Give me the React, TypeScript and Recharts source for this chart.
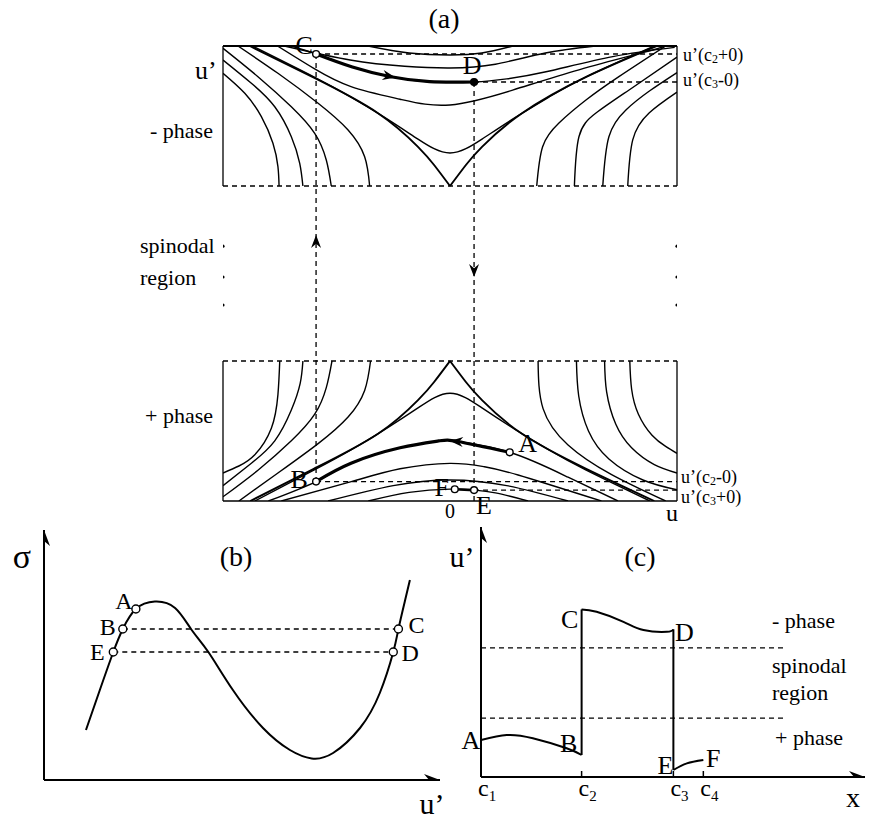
import React from 'react';
import {
  ComposedChart,
  Line,
  Scatter,
  XAxis,
  YAxis,
  ReferenceLine,
  ReferenceDot,
} from 'recharts';

const SERIF = '"Liberation Serif", "Times New Roman", serif';
const INK = '#000';

type Pt = { u: number; v: number };
const pts = (rows: number[][]): Pt[] => rows.map(([u, v]) => ({ u, v }));

// ---------- (a) phase plane. "- phase" box: u' 2.25..3.25, "+ phase" box: u' 0..1
const minusLeft = [
  pts([[-1.0, 3.055], [-0.904, 2.912], [-0.831, 2.745], [-0.78, 2.555], [-0.758, 2.388], [-0.753, 2.25]]),
  pts([[-1.0, 3.15], [-0.875, 2.984], [-0.772, 2.816], [-0.699, 2.602], [-0.662, 2.412], [-0.648, 2.25]]),
  pts([[-1.0, 3.234], [-0.846, 3.031], [-0.699, 2.816], [-0.596, 2.626], [-0.545, 2.436], [-0.523, 2.25]]),
  pts([[-0.934, 3.25], [-0.758, 3.055], [-0.581, 2.841], [-0.449, 2.65], [-0.376, 2.459], [-0.354, 2.25]]),
];
const minusRight = [
  pts([[0.783, 2.25], [0.805, 2.579], [0.877, 2.771], [1.0, 2.92]]),
  pts([[0.673, 2.25], [0.7, 2.602], [0.775, 2.793], [0.88, 2.93], [1.0, 3.06]]),
  pts([[0.548, 2.25], [0.568, 2.602], [0.643, 2.771], [0.789, 2.936], [1.0, 3.17]]),
  pts([[0.382, 2.25], [0.408, 2.531], [0.48, 2.7], [0.599, 2.864], [0.744, 3.031], [0.95, 3.25]]),
];
const minusBowls = [
  pts([[-0.87, 3.25], [-0.6, 3.03], [-0.436, 2.885], [-0.288, 2.74], [-0.141, 2.585], [0, 2.486], [0.141, 2.585], [0.288, 2.74], [0.436, 2.885], [0.6, 3.03], [0.9, 3.25]]),
  pts([[-0.76, 3.25], [-0.6, 3.09], [-0.436, 2.96], [-0.22, 2.87], [0, 2.829], [0.276, 2.935], [0.568, 3.08], [0.863, 3.209], [0.947, 3.25]]),
  pts([[-0.7, 3.25], [-0.59, 3.193], [-0.43, 3.1], [-0.26, 3.03], [-0.09, 2.995], [0.106, 2.993], [0.25, 3.015], [0.423, 3.066], [0.717, 3.174], [0.99, 3.24]]),
  pts([[-0.73, 3.25], [-0.44, 3.15], [-0.2, 3.105], [0, 3.093], [0.2, 3.12], [0.42, 3.2], [0.64, 3.25]]),
  pts([[-0.361, 3.25], [-0.18, 3.2], [0, 3.186], [0.14, 3.2], [0.276, 3.25]]),
];
const minusSeparatrix = [
  pts([[-0.882, 3.25], [-0.595, 3.02], [-0.317, 2.77], [-0.141, 2.53], [-0.07, 2.4], [0, 2.25]]),
  pts([[0, 2.25], [0.07, 2.4], [0.141, 2.53], [0.317, 2.77], [0.6, 3.03], [0.91, 3.25]]),
];
const pathCD = pts([[-0.59, 3.193], [-0.43, 3.1], [-0.26, 3.03], [-0.09, 2.995], [0.106, 2.993]]);

const plusLeft = [
  pts([[-0.75, 1.0], [-0.758, 0.76], [-0.787, 0.52], [-0.86, 0.33], [-0.93, 0.25], [-1.0, 0.2]]),
  pts([[-0.648, 1.0], [-0.66, 0.84], [-0.699, 0.65], [-0.772, 0.43], [-0.875, 0.27], [-1.0, 0.11]]),
  pts([[-0.52, 1.0], [-0.545, 0.81], [-0.596, 0.62], [-0.699, 0.43], [-0.846, 0.22], [-1.0, 0.03]]),
  pts([[-0.35, 1.0], [-0.376, 0.79], [-0.449, 0.6], [-0.581, 0.41], [-0.758, 0.2], [-0.93, 0]]),
];
const plusRight = [
  pts([[0.792, 1.0], [0.8, 0.8], [0.83, 0.62], [0.89, 0.47], [0.95, 0.39], [1.0, 0.34]]),
  pts([[0.681, 1.0], [0.69, 0.78], [0.73, 0.55], [0.8, 0.38], [0.9, 0.26], [1.0, 0.2]]),
  pts([[0.557, 1.0], [0.567, 0.75], [0.61, 0.5], [0.7, 0.3], [0.85, 0.15], [1.0, 0.08]]),
  pts([[0.388, 1.0], [0.41, 0.66], [0.52, 0.4], [0.71, 0.19], [0.95, 0]]),
];
const plusArches = [
  pts([[-0.86, 0], [-0.6, 0.22], [-0.436, 0.365], [-0.288, 0.51], [-0.141, 0.665], [0, 0.77], [0.141, 0.665], [0.288, 0.51], [0.436, 0.365], [0.6, 0.22], [0.88, 0]]),
  pts([[-0.8, 0], [-0.59, 0.139], [-0.436, 0.27], [-0.22, 0.38], [-0.05, 0.429], [0.035, 0.425], [0.263, 0.348], [0.52, 0.17], [0.74, 0]]),
  pts([[-0.743, 0], [-0.435, 0.138], [-0.22, 0.23], [0, 0.269], [0.15, 0.245], [0.3, 0.186], [0.667, 0]]),
  pts([[-0.537, 0], [-0.25, 0.11], [0, 0.15], [0.25, 0.11], [0.52, 0]]),
  pts([[-0.36, 0], [-0.18, 0.062], [0, 0.085], [0.106, 0.078], [0.2, 0.058], [0.344, 0]]),
];
const plusSeparatrix = [
  pts([[-0.88, 0], [-0.6, 0.23], [-0.317, 0.48], [-0.141, 0.72], [-0.07, 0.85], [0, 1.0]]),
  pts([[0, 1.0], [0.07, 0.85], [0.141, 0.72], [0.317, 0.48], [0.6, 0.23], [0.9, 0]]),
];
const pathAB = pts([[-0.59, 0.139], [-0.436, 0.27], [-0.22, 0.38], [-0.05, 0.429], [0.035, 0.425], [0.263, 0.348]]);
const pathFE = pts([[0.021, 0.084], [0.106, 0.078]]);

const aPoints: Record<string, Pt> = {
  C: { u: -0.59, v: 3.193 },
  D: { u: 0.106, v: 2.993 },
  B: { u: -0.59, v: 0.139 },
  A: { u: 0.263, v: 0.348 },
  F: { u: 0.021, v: 0.084 },
  E: { u: 0.106, v: 0.078 },
};
const aGapDots = pts([[-1, 1.82], [-1, 1.6], [-1, 1.4], [1, 1.82], [1, 1.6], [1, 1.4]]);
const aArrowRight = pts([[-0.24, 3.025]]);
const aArrowLeft = pts([[0.0, 0.428]]);
const aArrowUp = pts([[-0.59, 1.9]]);
const aArrowDown = pts([[0.106, 1.6]]);

// ---------- (b) sigma(u')
const bCurve = pts([
  [1.06, 1.25], [1.41, 2.25], [1.75, 3.2], [1.99, 3.775], [2.32, 4.275], [2.8, 4.46], [3.31, 4.3],
  [3.73, 3.75], [4.15, 3.2], [4.77, 2.25], [5.53, 1.3], [6.21, 0.75], [6.76, 0.54], [7.3, 0.675],
  [7.98, 1.3], [8.48, 2.175], [8.82, 3.2], [8.95, 3.775], [9.12, 4.5], [9.24, 5.0],
]);
const bPoints: Record<string, Pt> = {
  A: { u: 2.32, v: 4.275 },
  B: { u: 1.99, v: 3.775 },
  E: { u: 1.75, v: 3.2 },
  C: { u: 8.95, v: 3.775 },
  D: { u: 8.82, v: 3.2 },
};

// ---------- (c) u'(x)
const cTicks = [0, 2.62, 5.01, 5.79];
const cSegAB = pts([[0, 0.925], [0.67, 1.05], [1.35, 0.97], [2.23, 0.72], [2.62, 0.55]]);
const cJumpBC = pts([[2.62, 0.55], [2.62, 4.19]]);
const cSegCD = pts([[2.62, 4.19], [3.01, 4.13], [3.71, 3.88], [4.23, 3.675], [4.84, 3.63], [5.01, 3.69]]);
const cJumpDE = pts([[5.01, 3.69], [5.01, 0.175]]);
const cSegEF = pts([[5.01, 0.175], [5.36, 0.34], [5.79, 0.425]]);
const cSpinodal = [3.23, 1.47];
const cLabelAt: Record<string, Pt> = {
  A: { u: 0, v: 0.925 },
  B: { u: 2.62, v: 0.55 },
  C: { u: 2.62, v: 4.19 },
  D: { u: 5.01, v: 3.69 },
  E: { u: 5.01, v: 0.175 },
  F: { u: 5.79, v: 0.425 },
};

// label offsets in px from the point
const aTagOffset: Record<string, [number, number]> = {
  C: [-12, -8], D: [-2, -16], B: [-17, -2], A: [18, -9], F: [-13, -2], E: [10, 15],
};
const bTagOffset: Record<string, [number, number]> = {
  A: [-12, -8], B: [-15, -2], E: [-16, 0], C: [18, -4], D: [17, 1],
};
const cTagOffset: Record<string, [number, number]> = {
  A: [-10, 0], B: [-13, -12], C: [-12, 10], D: [11, 3], E: [-8, -5], F: [10, -2],
};

const tag = (text: string, dx: number, dy: number, size = 26) => (props: any) => {
  const vb = props.viewBox || {};
  return (
    <text
      x={vb.x + dx}
      y={vb.y + dy}
      fontSize={size}
      fontFamily={SERIF}
      fill={INK}
      textAnchor="middle"
      dominantBaseline="central"
    >
      {text}
    </text>
  );
};

const arrowHead = (angle: number, len = 13, half = 5) => (p: any) => (
  <path
    d={`M0,0 L${-len},${-half} L${-len * 0.68},0 L${-len},${half} Z`}
    transform={`translate(${p.cx},${p.cy}) rotate(${angle})`}
    fill={INK}
  />
);

const openDot = (r: number, filled = false) => (props: any) => (
  <circle cx={props.cx} cy={props.cy} r={r} fill={filled ? INK : '#fff'} stroke={INK} strokeWidth={1.4} />
);

const thin = { stroke: INK, strokeWidth: 1.4, dot: false, isAnimationActive: false } as const;
const dash = { stroke: INK, strokeWidth: 1.3, strokeDasharray: '5 4' };

const CTick = (props: any) => {
  const { x, y, index } = props;
  return (
    <g>
      <line x1={x} x2={x} y1={y - 6} y2={y} stroke={INK} strokeWidth={1.5} />
      <text x={x - 3} y={y + 19} fontSize={24} fontFamily={SERIF} fill={INK}>
        c<tspan fontSize={15} dy={5}>{index + 1}</tspan>
      </text>
    </g>
  );
};

const PhasePlane = () => (
  <ComposedChart
    width={870}
    height={560}
    margin={{ top: 46, right: 193, bottom: 39, left: 223 }}
    style={{ position: 'absolute', left: 0, top: 0 }}
  >
    <XAxis
      type="number"
      dataKey="u"
      domain={[-1, 1]}
      ticks={[0]}
      interval={0}
      allowDataOverflow
      height={20}
      tickLine={false}
      tickSize={0}
      tickMargin={3}
      axisLine={{ stroke: INK, strokeWidth: 1.6 }}
      tick={{ fontSize: 20, fill: INK, fontFamily: SERIF }}
    />
    <YAxis type="number" dataKey="v" domain={[0, 3.25]} hide allowDataOverflow />

    {/* box outlines */}
    <ReferenceLine segment={[{ x: -1, y: 3.25 }, { x: 1, y: 3.25 }]} stroke={INK} strokeWidth={2} />
    <ReferenceLine segment={[{ x: -1, y: 2.25 }, { x: 1, y: 2.25 }]} {...dash} />
    <ReferenceLine segment={[{ x: -1, y: 2.25 }, { x: -1, y: 3.25 }]} stroke={INK} strokeWidth={1.3} />
    <ReferenceLine segment={[{ x: 1, y: 2.25 }, { x: 1, y: 3.25 }]} stroke={INK} strokeWidth={1.3} />
    <ReferenceLine segment={[{ x: -1, y: 1 }, { x: 1, y: 1 }]} {...dash} />
    <ReferenceLine segment={[{ x: -1, y: 0 }, { x: -1, y: 1 }]} stroke={INK} strokeWidth={1.3} />
    <ReferenceLine segment={[{ x: 1, y: 0 }, { x: 1, y: 1 }]} stroke={INK} strokeWidth={1.3} />

    {/* guide lines */}
    <ReferenceLine segment={[{ x: aPoints.C.u, y: aPoints.C.v }, { x: aPoints.B.u, y: aPoints.B.v }]} {...dash} />
    <ReferenceLine segment={[{ x: aPoints.D.u, y: aPoints.D.v }, { x: aPoints.D.u, y: 0 }]} {...dash} />
    <ReferenceLine segment={[{ x: aPoints.C.u, y: aPoints.C.v }, { x: 1, y: aPoints.C.v }]} {...dash} />
    <ReferenceLine segment={[{ x: aPoints.D.u, y: aPoints.D.v }, { x: 1, y: aPoints.D.v }]} {...dash} />
    <ReferenceLine segment={[{ x: aPoints.B.u, y: aPoints.B.v }, { x: 1, y: aPoints.B.v }]} {...dash} />
    <ReferenceLine segment={[{ x: aPoints.E.u, y: aPoints.E.v }, { x: 1, y: aPoints.E.v }]} {...dash} />

    {[...minusLeft, ...minusRight, ...minusBowls, ...plusLeft, ...plusRight, ...plusArches].map((d, i) => (
      <Line key={`c${i}`} data={d} dataKey="v" type="natural" {...thin} />
    ))}
    {[...minusSeparatrix, ...plusSeparatrix].map((d, i) => (
      <Line key={`s${i}`} data={d} dataKey="v" type="natural" {...thin} strokeWidth={1.9} />
    ))}
    <Line data={pathCD} dataKey="v" type="natural" {...thin} strokeWidth={3.2} />
    <Line data={pathAB} dataKey="v" type="natural" {...thin} strokeWidth={3.2} />
    <Line data={pathFE} dataKey="v" type="linear" {...thin} strokeWidth={2.6} />

    <Scatter data={aGapDots} dataKey="v" isAnimationActive={false} shape={(p: any) => <circle cx={p.cx} cy={p.cy} r={1.6} fill={INK} />} />
    <Scatter data={aArrowRight} dataKey="v" isAnimationActive={false} shape={arrowHead(11)} />
    <Scatter data={aArrowLeft} dataKey="v" isAnimationActive={false} shape={arrowHead(184)} />
    <Scatter data={aArrowUp} dataKey="v" isAnimationActive={false} shape={arrowHead(-90)} />
    <Scatter data={aArrowDown} dataKey="v" isAnimationActive={false} shape={arrowHead(90)} />

    {Object.entries(aPoints).map(([name, p]) => (
      <ReferenceDot
        key={name}
        x={p.u}
        y={p.v}
        r={0}
        label={tag(name, aTagOffset[name][0], aTagOffset[name][1])}
      />
    ))}
    <Scatter
      data={Object.entries(aPoints).filter(([n]) => n !== 'D').map(([, p]) => p)}
      dataKey="v"
      isAnimationActive={false}
      shape={openDot(3.4)}
    />
    <Scatter data={[aPoints.D]} dataKey="v" isAnimationActive={false} shape={openDot(3.4, true)} />
  </ComposedChart>
);

const SigmaPlot = () => (
  <ComposedChart
    width={460}
    height={320}
    margin={{ top: 30, right: 20, bottom: 40, left: 44 }}
    style={{ position: 'absolute', left: 0, top: 500 }}
  >
    <XAxis type="number" dataKey="u" domain={[0, 10]} hide allowDataOverflow />
    <YAxis type="number" dataKey="v" domain={[0, 6.25]} hide allowDataOverflow />
    <ReferenceLine x={0} stroke={INK} strokeWidth={2} />
    <ReferenceLine y={0} stroke={INK} strokeWidth={2} />
    <ReferenceLine segment={[{ x: bPoints.B.u, y: bPoints.B.v }, { x: bPoints.C.u, y: bPoints.C.v }]} {...dash} />
    <ReferenceLine segment={[{ x: bPoints.E.u, y: bPoints.E.v }, { x: bPoints.D.u, y: bPoints.D.v }]} {...dash} />
    <Line data={bCurve} dataKey="v" type="natural" {...thin} strokeWidth={2} />
    <Scatter data={pts([[10, 0]])} dataKey="v" isAnimationActive={false} shape={arrowHead(0, 16, 6)} />
    <Scatter data={pts([[0, 6.25]])} dataKey="v" isAnimationActive={false} shape={arrowHead(-90, 16, 6)} />
    <Scatter data={Object.values(bPoints)} dataKey="v" isAnimationActive={false} shape={openDot(4)} />
    {Object.entries(bPoints).map(([name, p]) => (
      <ReferenceDot key={name} x={p.u} y={p.v} r={0} label={tag(name, bTagOffset[name][0], bTagOffset[name][1], 24)} />
    ))}
  </ComposedChart>
);

const ProfilePlot = () => (
  <ComposedChart
    width={430}
    height={320}
    margin={{ top: 27, right: 5, bottom: 23, left: 41 }}
    style={{ position: 'absolute', left: 440, top: 500 }}
  >
    <XAxis
      type="number"
      dataKey="u"
      domain={[0, 10]}
      ticks={cTicks}
      interval={0}
      allowDataOverflow
      height={20}
      tickLine={false}
      tickSize={0}
      tickMargin={0}
      axisLine={{ stroke: INK, strokeWidth: 2 }}
      tick={<CTick />}
    />
    <YAxis type="number" dataKey="v" domain={[0, 6.25]} hide allowDataOverflow />
    <ReferenceLine x={0} stroke={INK} strokeWidth={2} />
    {cSpinodal.map((y) => (
      <ReferenceLine key={y} segment={[{ x: 0, y }, { x: 7.92, y }]} {...dash} />
    ))}
    <Line data={cSegAB} dataKey="v" type="natural" {...thin} strokeWidth={2} />
    <Line data={cJumpBC} dataKey="v" type="linear" {...thin} strokeWidth={2} />
    <Line data={cSegCD} dataKey="v" type="natural" {...thin} strokeWidth={2} />
    <Line data={cJumpDE} dataKey="v" type="linear" {...thin} strokeWidth={2} />
    <Line data={cSegEF} dataKey="v" type="natural" {...thin} strokeWidth={2} />
    <Scatter data={pts([[10, 0]])} dataKey="v" isAnimationActive={false} shape={arrowHead(0, 16, 6)} />
    <Scatter data={pts([[0, 6.25]])} dataKey="v" isAnimationActive={false} shape={arrowHead(-90, 16, 6)} />
    {Object.entries(cLabelAt).map(([name, p]) => (
      <ReferenceDot key={name} x={p.u} y={p.v} r={0} label={tag(name, cTagOffset[name][0], cTagOffset[name][1])} />
    ))}
  </ComposedChart>
);

const T = (p: { x: number; y: number; size?: number; anchor?: 'start' | 'middle' | 'end'; children: React.ReactNode }) => (
  <text
    x={p.x}
    y={p.y}
    fontSize={p.size ?? 22}
    fontFamily={SERIF}
    fill={INK}
    textAnchor={p.anchor ?? 'start'}
    dominantBaseline="central"
  >
    {p.children}
  </text>
);

const Jump = ({ x, y, sub, rest }: { x: number; y: number; sub: string; rest: string }) => (
  <text x={x} y={y} fontSize={18} fontFamily={SERIF} fill={INK} dominantBaseline="central">
    u’(c<tspan fontSize={12} dy={4}>{sub}</tspan>
    <tspan dy={-4}>{rest}</tspan>
  </text>
);

const Annotations = () => (
  <svg width={870} height={820} style={{ position: 'absolute', left: 0, top: 0, pointerEvents: 'none' }}>
    <T x={444} y={18} size={28} anchor="middle">(a)</T>
    <T x={195} y={70} size={26}>u’</T>
    <T x={150} y={130} size={22}>- phase</T>
    <T x={140} y={245} size={22}>spinodal</T>
    <T x={140} y={277} size={22}>region</T>
    <T x={145} y={415} size={22}>+ phase</T>
    <Jump x={683} y={55} sub="2" rest="+0)" />
    <Jump x={683} y={80} sub="3" rest="-0)" />
    <Jump x={681} y={477} sub="2" rest="-0)" />
    <Jump x={681} y={497} sub="3" rest="+0)" />
    <T x={672} y={513} size={24} anchor="middle">u</T>

    <T x={22} y={556} size={34} anchor="middle">σ</T>
    <T x={236} y={556} size={28} anchor="middle">(b)</T>
    <T x={432} y={803} size={30} anchor="middle">u’</T>

    <T x={462} y={556} size={30} anchor="middle">u’</T>
    <T x={640} y={556} size={28} anchor="middle">(c)</T>
    <T x={853} y={797} size={28} anchor="middle">x</T>
    <T x={772} y={620} size={22}>- phase</T>
    <T x={772} y={665} size={22}>spinodal</T>
    <T x={772} y={692} size={22}>region</T>
    <T x={775} y={737} size={22}>+ phase</T>
  </svg>
);

export default function App() {
  return (
    <div style={{ position: 'absolute', left: 0, top: 0, width: 870, height: 820, background: '#fff' }}>
      <PhasePlane />
      <SigmaPlot />
      <ProfilePlot />
      <Annotations />
    </div>
  );
}
